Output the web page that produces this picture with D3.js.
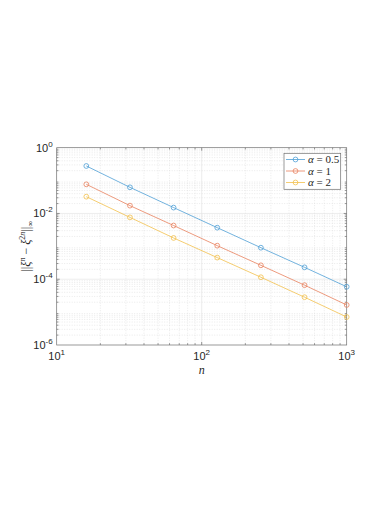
<!DOCTYPE html>
<html>
<head>
<meta charset="utf-8">
<script src="https://cdn.jsdelivr.net/npm/d3@7"></script>
<style>
body{margin:0;background:#fff;}
text{font-family:"Liberation Sans",Arial,sans-serif;fill:#262626;}
text.tex{font-family:"Liberation Serif","DejaVu Serif",serif;}
</style>
</head>
<body>
<div id="chart"></div>
<script>
// data
var nVals = [16, 32, 64, 128, 256, 512, 1000];
var errA05 = [0.278, 0.0624, 0.0151, 0.0037, 9.1e-4, 2.3e-4, 5.9e-5];
var errA1  = [0.077, 0.0173, 0.0043, 0.00105, 2.65e-4, 6.6e-5, 1.65e-5];
var errA2  = [0.0324, 0.0076, 0.0018, 4.55e-4, 1.15e-4, 2.84e-5, 7.1e-6];
var seriesNames = ["0.5", "1", "2"];
var xTicks = [1, 2, 3];      // exponents
var yTicks = [0, -2, -4, -6];

var width = 389, height = 509,
    pLeft = 56.7, pRight = 346.7, pTop = 147.7, pBottom = 345;

var colors = ["#4f9fd6", "#e8825e", "#f2c04c"];
var series = [errA05, errA1, errA2];

var svg = d3.select("#chart").append("svg")
    .attr("width", width)
    .attr("height", height);

var x = d3.scaleLog().domain([10, 1000]).range([pLeft, pRight]);
var y = d3.scaleLog().domain([1e-6, 1]).range([pBottom, pTop]);

// minor grid
var minorX = [], minorY = [];
for (var d = 1; d < 3; d++) for (var k = 2; k < 10; k++) minorX.push(k * Math.pow(10, d));
for (var d = -6; d < 0; d++) for (var k = 2; k < 10; k++) minorY.push(k * Math.pow(10, d));

var grid = svg.append("g");
grid.selectAll(".mx").data(minorX).enter().append("line")
    .attr("x1", function(d){return x(d);}).attr("x2", function(d){return x(d);})
    .attr("y1", pTop).attr("y2", pBottom)
    .attr("stroke", "#dcdcdc").attr("stroke-width", 0.6).attr("stroke-dasharray", "1,1.5");
grid.selectAll(".my").data(minorY).enter().append("line")
    .attr("y1", function(d){return y(d);}).attr("y2", function(d){return y(d);})
    .attr("x1", pLeft).attr("x2", pRight)
    .attr("stroke", "#dcdcdc").attr("stroke-width", 0.6).attr("stroke-dasharray", "1,1.5");
// major grid
grid.selectAll(".Mx").data([100]).enter().append("line")
    .attr("x1", function(d){return x(d);}).attr("x2", function(d){return x(d);})
    .attr("y1", pTop).attr("y2", pBottom)
    .attr("stroke", "#e0e0e0").attr("stroke-width", 0.6);
grid.selectAll(".My").data([1e-2, 1e-4]).enter().append("line")
    .attr("y1", function(d){return y(d);}).attr("y2", function(d){return y(d);})
    .attr("x1", pLeft).attr("x2", pRight)
    .attr("stroke", "#e0e0e0").attr("stroke-width", 0.6);

// ticks (inside, on all four sides)
var tk = svg.append("g").attr("stroke", "#555").attr("stroke-width", 0.6);
minorX.concat([100]).forEach(function(v){
    var len = v === 100 ? 3 : 1.8;
    tk.append("line").attr("x1", x(v)).attr("x2", x(v)).attr("y1", pBottom).attr("y2", pBottom - len);
    tk.append("line").attr("x1", x(v)).attr("x2", x(v)).attr("y1", pTop).attr("y2", pTop + len);
});
minorY.concat([1e-2, 1e-4]).forEach(function(v){
    var len = (v === 1e-2 || v === 1e-4) ? 3 : 1.8;
    tk.append("line").attr("y1", y(v)).attr("y2", y(v)).attr("x1", pLeft).attr("x2", pLeft + len);
    tk.append("line").attr("y1", y(v)).attr("y2", y(v)).attr("x1", pRight).attr("x2", pRight - len);
});

// box
svg.append("rect")
    .attr("x", pLeft).attr("y", pTop)
    .attr("width", pRight - pLeft).attr("height", pBottom - pTop)
    .attr("fill", "none").attr("stroke", "#6e6e6e").attr("stroke-width", 0.7);

// tick labels
var xl = svg.selectAll(".xl").data(xTicks).enter().append("text")
    .attr("x", function(d){return x(Math.pow(10, d));})
    .attr("y", 360)
    .attr("text-anchor", "middle")
    .attr("font-size", 11);
xl.append("tspan").text("10");
xl.append("tspan").attr("dy", -5).attr("font-size", 8).text(function(d){return d;});

var yl = svg.selectAll(".yl").data(yTicks).enter().append("text")
    .attr("x", pLeft - 4)
    .attr("y", function(d){return y(Math.pow(10, d)) + 4;})
    .attr("text-anchor", "end")
    .attr("font-size", 11);
yl.append("tspan").text("10");
yl.append("tspan").attr("dy", -5).attr("font-size", 8).text(function(d){return d;});

// axis labels
svg.append("text")
    .attr("class", "tex")
    .attr("x", (pLeft + pRight) / 2).attr("y", 374)
    .attr("text-anchor", "middle")
    .attr("font-style", "italic").attr("font-size", 12)
    .text("n");

var ylab = svg.append("text")
    .attr("class", "tex")
    .attr("transform", "translate(30," + ((pTop + pBottom) / 2) + ") rotate(-90)")
    .attr("text-anchor", "middle")
    .attr("font-size", 12);
ylab.append("tspan").text("||");
ylab.append("tspan").attr("font-style", "italic").text("ξ");
ylab.append("tspan").attr("dy", -5).attr("font-size", 8).attr("font-style", "italic").text("n");
ylab.append("tspan").attr("dy", 5).text(" − ");
ylab.append("tspan").attr("font-style", "italic").text("ξ");
ylab.append("tspan").attr("dy", -5).attr("font-size", 8).text("2");
ylab.append("tspan").attr("font-size", 8).attr("font-style", "italic").text("n");
ylab.append("tspan").attr("dy", 5).text("||");
ylab.append("tspan").attr("dy", 3).attr("font-size", 8).text("∞");

// lines and markers
var line = d3.line()
    .x(function(d){return x(d[0]);})
    .y(function(d){return y(d[1]);});

series.forEach(function(s, i){
    var pts = nVals.map(function(n, j){return [n, s[j]];});
    svg.append("path")
        .attr("d", line(pts))
        .attr("fill", "none")
        .attr("stroke", colors[i])
        .attr("stroke-width", 0.8);
    svg.selectAll(".m" + i).data(pts).enter().append("circle")
        .attr("cx", function(d){return x(d[0]);})
        .attr("cy", function(d){return y(d[1]);})
        .attr("r", 2.4)
        .attr("fill", "none")
        .attr("stroke", colors[i])
        .attr("stroke-width", 0.8);
});

// legend
var lg = svg.append("g");
lg.append("rect")
    .attr("x", 284).attr("y", 153.3)
    .attr("width", 56.7).attr("height", 36)
    .attr("fill", "#fff").attr("stroke", "#6e6e6e").attr("stroke-width", 0.7);
var items = lg.selectAll(".li").data(seriesNames).enter().append("g")
    .attr("transform", function(d, i){return "translate(286," + (159.5 + i * 11.5) + ")";});
items.append("line")
    .attr("x1", 0).attr("x2", 19)
    .attr("stroke", function(d, i){return colors[i];}).attr("stroke-width", 0.8);
items.append("circle")
    .attr("cx", 9.5).attr("r", 2.4)
    .attr("fill", "none").attr("stroke-width", 0.8)
    .attr("stroke", function(d, i){return colors[i];});
var lt = items.append("text")
    .attr("class", "tex")
    .attr("x", 22).attr("y", 3.5)
    .attr("font-size", 11);
lt.append("tspan").attr("font-style", "italic").text("α");
lt.append("tspan").text(function(d){return " = " + d;});
</script>
</body>
</html>
